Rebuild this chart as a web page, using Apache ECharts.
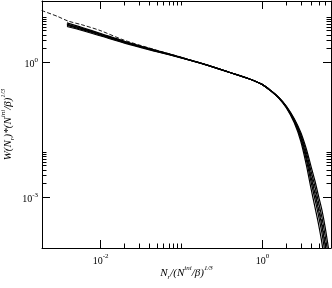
<!DOCTYPE html>
<html><head><meta charset="utf-8">
<script src="https://cdn.jsdelivr.net/npm/echarts@6/dist/echarts.min.js"></script>
<style>html,body{margin:0;padding:0;background:#fff}#c{width:332px;height:288px}</style>
</head><body><div id="c"></div>
<script>
// ---- axis ranges & ticks ----
const X_MIN = 0.00192, X_MAX = 7.1;
const Y_MIN = 7.24e-5, Y_MAX = 22.3;
const X_MAJOR = [0.01, 1];
const X_MAJOR_EXP = ['-2', '0'];
const X_MINOR = [0.02, 0.03, 0.04, 0.05, 0.06, 0.07, 0.08, 0.09, 0.1, 2, 3, 4, 5, 6, 7];
const Y_MAJOR = [0.001, 1];
const Y_MAJOR_EXP = ['-3', '0'];
const Y_MINOR = [0.002, 0.003, 0.004, 0.005, 0.006, 0.007, 0.008, 0.009, 0.01, 2, 3, 4, 5, 6, 7, 8, 9, 10];

// ---- data ----
const X_SOLID = [0.0039, 0.006, 0.01, 0.02, 0.05, 0.1, 0.2, 0.4, 0.7, 1.0, 1.3, 1.6, 2.0, 2.5, 3.0, 3.5, 4.0, 4.5, 5.0, 5.5, 6.0, 6.5, 7.0];
const Y_A = [7.26, 5.75, 4.28, 2.84, 1.77, 1.245, 0.865, 0.575, 0.412, 0.313, 0.221, 0.158, 0.0966, 0.0467, 0.0198, 0.00684, 0.00226, 8.77e-4, 3.66e-4, 1.52e-4, 5.41e-5, 2.00e-5, 7.9e-6];
const Y_B = [6.89, 5.50, 4.12, 2.77, 1.74, 1.236, 0.863, 0.575, 0.412, 0.313, 0.223, 0.162, 0.102, 0.0538, 0.0270, 0.0119, 0.00491, 0.00223, 0.00100, 4.90e-4, 2.14e-4, 8.63e-5, 3.52e-5];
const Y_C = [6.70, 5.37, 4.05, 2.73, 1.73, 1.23, 0.861, 0.575, 0.412, 0.313, 0.222, 0.160, 0.0982, 0.0489, 0.0218, 0.00813, 0.00288, 0.00117, 5.01e-4, 2.19e-4, 8.32e-5, 3.16e-5, 1.26e-5];
const Y_D = [6.40, 5.16, 3.92, 2.67, 1.70, 1.22, 0.859, 0.575, 0.412, 0.313, 0.220, 0.157, 0.0944, 0.0440, 0.0173, 0.00536, 0.00161, 5.83e-4, 2.36e-4, 9.08e-5, 2.96e-5, 1.06e-5, 4.1e-6];
const Y_E = [6.04, 4.92, 3.76, 2.59, 1.67, 1.21, 0.857, 0.575, 0.412, 0.313, 0.222, 0.161, 0.100, 0.0515, 0.0245, 0.0100, 0.00385, 0.00167, 7.31e-4, 3.40e-4, 1.39e-4, 5.47e-5, 2.21e-5];
const X_DASH = [0.0019, 0.003, 0.004, 0.006, 0.01, 0.02, 0.05, 0.1, 0.2, 0.4, 0.7, 1.0, 1.3, 1.6, 2.0, 2.5, 3.0, 3.5, 4.0, 4.5, 5.0, 5.5, 6.0, 6.5];
const Y_DASH = [13.7, 10.1, 8.03, 6.59, 4.93, 2.99, 1.80, 1.26, 0.868, 0.58, 0.414, 0.314, 0.222, 0.160, 0.0985, 0.0495, 0.0225, 0.0087, 0.0032, 0.00133, 5.8e-4, 2.6e-4, 1.0e-4, 3.9e-5];

const FONT = 'Liberation Serif';
const MAJOR_LEN = 8, MINOR_LEN = 4.5;
const labelRich = {
  b: {fontFamily: FONT, fontSize: 10, lineHeight: 13, verticalAlign: 'bottom', fill: '#000'},
  e: {fontFamily: FONT, fontSize: 7, lineHeight: 13, verticalAlign: 'top', fill: '#000'}
};
const titleRich = {
  i: {fontFamily: FONT, fontSize: 11, fontStyle: 'italic', lineHeight: 16, verticalAlign: 'middle', color: '#000'},
  sub: {fontFamily: FONT, fontSize: 7, fontStyle: 'italic', lineHeight: 16, verticalAlign: 'bottom', color: '#000'},
  sup: {fontFamily: FONT, fontSize: 7, fontStyle: 'italic', lineHeight: 16, verticalAlign: 'top', color: '#000'}
};

function zip(xs, ys) { const n = Math.min(xs.length, ys.length); const o = []; for (let i = 0; i < n; i++) o.push([xs[i], ys[i]]); return o; }
const px = v => Math.round(v) + 0.5;

function xTicks(params, api) {
  const v = api.value(0), major = api.value(2) === 1, idx = api.value(3);
  const b = api.coord([v, Y_MIN]), t = api.coord([v, Y_MAX]);
  const len = major ? MAJOR_LEN : MINOR_LEN, x = px(b[0]);
  const ch = [
    {type: 'line', shape: {x1: x, y1: b[1], x2: x, y2: b[1] - len}, style: {stroke: '#000', lineWidth: 1}},
    {type: 'line', shape: {x1: x, y1: t[1], x2: x, y2: t[1] + len}, style: {stroke: '#000', lineWidth: 1}}
  ];
  if (major) ch.push({type: 'text', style: {text: '{b|10}{e|' + X_MAJOR_EXP[idx] + '}', rich: labelRich, x: b[0] + 0.5, y: b[1] + 5, align: 'center', verticalAlign: 'top'}});
  return {type: 'group', children: ch};
}
function yTicks(params, api) {
  const v = api.value(1), major = api.value(2) === 1, idx = api.value(3);
  const l = api.coord([X_MIN, v]), r = api.coord([X_MAX, v]);
  const len = major ? MAJOR_LEN : MINOR_LEN, y = px(l[1]);
  const ch = [
    {type: 'line', shape: {x1: l[0], y1: y, x2: l[0] + len, y2: y}, style: {stroke: '#000', lineWidth: 1}},
    {type: 'line', shape: {x1: r[0], y1: y, x2: r[0] - len, y2: y}, style: {stroke: '#000', lineWidth: 1}}
  ];
  if (major) ch.push({type: 'text', style: {text: '{b|10}{e|' + Y_MAJOR_EXP[idx] + '}', rich: labelRich, x: l[0] - 4, y: l[1] + 1, align: 'right', verticalAlign: 'middle'}});
  return {type: 'group', children: ch};
}

const xTickData = X_MAJOR.map((v, i) => [v, Y_MIN, 1, i]).concat(X_MINOR.map(v => [v, Y_MIN, 0, 0]));
const yTickData = Y_MAJOR.map((v, i) => [X_MIN, v, 1, i]).concat(Y_MINOR.map(v => [X_MIN, v, 0, 0]));

const axisBase = {
  type: 'log', logBase: 10,
  axisLine: {show: true, onZero: false, lineStyle: {color: '#000', width: 1}},
  axisTick: {show: false}, axisLabel: {show: false},
  splitLine: {show: false}, minorTick: {show: false}, minorSplitLine: {show: false}
};

const solidStyle = {color: '#000', width: 1.2};
function solid(name, ys) {
  return {name, type: 'line', data: zip(X_SOLID, ys), showSymbol: false, symbol: 'none', smooth: 0.3,
    lineStyle: solidStyle, silent: true, z: 3};
}

const chart = echarts.init(document.getElementById('c'), null, {renderer: 'canvas'});
chart.setOption({
  animation: false,
  backgroundColor: '#fff',
  grid: {left: 42, top: 1, width: 289, height: 247, containLabel: false, outerBoundsMode: 'none'},
  xAxis: [
    Object.assign({}, axisBase, {min: X_MIN, max: X_MAX, position: 'bottom',
      name: '{i|N}{sub|r}{i|/(N}{sup|ini}{i|/β)}{sup|1/3}', nameLocation: 'middle', nameGap: 17,
      nameTextStyle: {rich: titleRich}}),
    Object.assign({}, axisBase, {min: X_MIN, max: X_MAX, position: 'top'})
  ],
  yAxis: [
    Object.assign({}, axisBase, {min: Y_MIN, max: Y_MAX, position: 'left',
      name: '{i|W(N}{sub|r}{i|)*(N}{sup|ini}{i|/β)}{sup|1/3}', nameLocation: 'middle', nameGap: 26, nameRotate: 90,
      nameTextStyle: {rich: titleRich}}),
    Object.assign({}, axisBase, {min: Y_MIN, max: Y_MAX, position: 'right'})
  ],
  series: [
    solid('A', Y_A), solid('B', Y_B), solid('C', Y_C), solid('D', Y_D), solid('E', Y_E),
    {name: 'dash', type: 'line', data: zip(X_DASH, Y_DASH), showSymbol: false, symbol: 'none', smooth: 0.3,
      lineStyle: {color: '#000', width: 0.9, type: [4, 2]}, silent: true, z: 4},
    {type: 'custom', renderItem: xTicks, data: xTickData, encode: {x: 0, y: 1}, silent: true, z: 5, clip: false},
    {type: 'custom', renderItem: yTicks, data: yTickData, encode: {x: 0, y: 1}, silent: true, z: 5, clip: false}
  ]
});
</script></body></html>
